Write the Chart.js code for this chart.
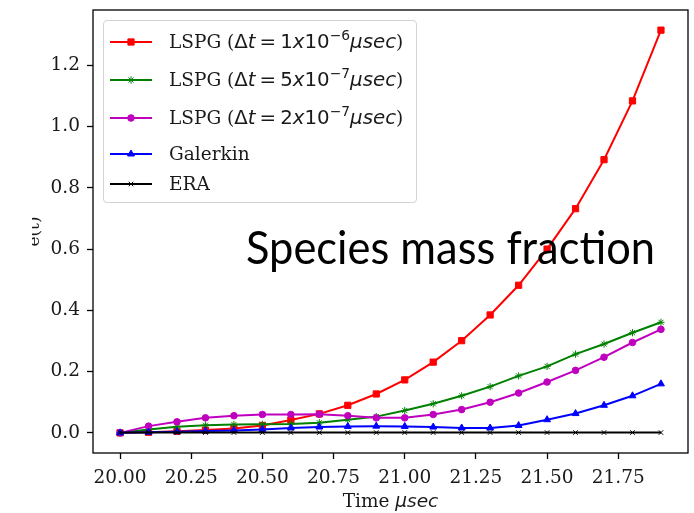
<!DOCTYPE html>
<html lang="en">
<head>
  <meta charset="UTF-8">
  <title>Species mass fraction error</title>
  <script src="https://cdn.jsdelivr.net/npm/chart.js"></script>
  <style>
    body { margin: 0; background: #fff; }
    #wrap { position: relative; width: 694px; height: 513px; overflow: hidden; }
    #chart { position: absolute; left: 0; top: 0; }
    #legend {
      position: absolute; left: 103px; top: 20px; width: 306px;
      padding: 2px 0 5px 6px;
      border: 1px solid #d3d3d3; border-radius: 4px;
      background: rgba(255,255,255,0.8);
      font: 18.5px "DejaVu Serif"; color: #1a1a1a;
    }
    .row { display: flex; align-items: center; height: 38px; line-height: 20px; white-space: nowrap; }
    .row:nth-child(4) { height: 33px; }
    .row:nth-child(5) { height: 27px; }
    .row canvas { margin-right: 15px; flex: none; }
    .m { font-family: "DejaVu Sans"; font-size: 1.07em; }
    .m i { font-style: oblique; }
    .m sup { font-size: 0.7em; line-height: 0; vertical-align: 0.55em; }
    .eq { margin: 0 4px; }
    #xTitle {
      position: absolute; left: 93px; width: 595px; top: 492px;
      text-align: center; font: 18.5px/18px "DejaVu Serif"; color: #1a1a1a;
    }
    #xTitle i { font-family: "DejaVu Sans"; font-style: oblique; }
    #caption {
      position: absolute; left: 246px; top: 223px;
      font: 400 47px/47px Lato; color: #000; white-space: nowrap;
      transform-origin: left center;
    }
  </style>
</head>
<body>
<div id="wrap">
  <canvas id="chart" width="694" height="513"></canvas>
  <div id="legend"></div>
  <div id="xTitle">Time <i>μsec</i></div>
  <div id="caption">Species mass fraction</div>
</div>

<script>
  // time samples (μsec)
  const times = [20.0, 20.1, 20.2, 20.3, 20.4, 20.5, 20.6, 20.7, 20.8, 20.9,
                 21.0, 21.1, 21.2, 21.3, 21.4, 21.5, 21.6, 21.7, 21.8, 21.9];

  // error e(t) per method
  const lspgDt1e6 = [0, 0.002, 0.005, 0.009, 0.014, 0.024, 0.042, 0.062, 0.090, 0.127,
                     0.173, 0.231, 0.301, 0.385, 0.482, 0.600, 0.732, 0.892, 1.084, 1.315];
  const lspgDt5e7 = [0, 0.011, 0.020, 0.025, 0.027, 0.028, 0.029, 0.033, 0.043, 0.053,
                     0.073, 0.095, 0.121, 0.151, 0.186, 0.217, 0.257, 0.290, 0.327, 0.361];
  const lspgDt2e7 = [0, 0.022, 0.036, 0.049, 0.056, 0.060, 0.060, 0.061, 0.056, 0.049,
                     0.049, 0.060, 0.076, 0.100, 0.130, 0.166, 0.204, 0.247, 0.295, 0.338];
  const galerkin  = [0, 0.002, 0.004, 0.006, 0.008, 0.011, 0.016, 0.019, 0.021, 0.022,
                     0.021, 0.019, 0.016, 0.016, 0.024, 0.043, 0.063, 0.090, 0.121, 0.160];
  const era       = [0.001, 0.001, 0.001, 0.001, 0.001, 0.001, 0.001, 0.001, 0.001, 0.001,
                     0.001, 0.001, 0.001, 0.001, 0.001, 0.001, 0.001, 0.001, 0.001, 0.001];

  const xTicks = [20.00, 20.25, 20.50, 20.75, 21.00, 21.25, 21.50, 21.75];
  const yTicks = [0.0, 0.2, 0.4, 0.6, 0.8, 1.0, 1.2];

  const lspgLabel = (m, e) =>
    `LSPG (<span class="m">Δ<i>t</i><span class="eq">=</span>${m}<i>x</i>10<sup>−${e}</sup><i>μsec</i></span>)`;

  const series = [
    { label: lspgLabel(1, 6), data: lspgDt1e6, color: '#ff0000', style: 'rect',     r: 4.4 },
    { label: lspgLabel(5, 7), data: lspgDt5e7, color: '#008000', style: 'star',     r: 3.6 },
    { label: lspgLabel(2, 7), data: lspgDt2e7, color: '#bf00bf', style: 'circle',   r: 3.3 },
    { label: 'Galerkin',      data: galerkin,  color: '#0000ff', style: 'triangle', r: 4 },
    { label: 'ERA',           data: era,       color: '#000000', style: 'crossRot', r: 3.2 }
  ];

  // axes limits with 5% margins around the data, like matplotlib
  const xMin = times[0] - 0.05 * (times[times.length - 1] - times[0]);
  const xMax = times[times.length - 1] + 0.05 * (times[times.length - 1] - times[0]);
  const yTop = Math.max(...lspgDt1e6);
  const yMin = -0.05 * yTop, yMax = yTop * 1.05;

  const tickFont = { family: 'DejaVu Serif', size: 18.5 };

  // full frame around the plot area
  const frame = {
    id: 'frame',
    afterDraw(chart) {
      const { ctx, chartArea: a } = chart;
      ctx.save();
      ctx.strokeStyle = '#000';
      ctx.lineWidth = 1.3;
      ctx.strokeRect(a.left, a.top, a.right - a.left, a.bottom - a.top);
      ctx.restore();
    }
  };

  // y label, cut at the left edge
  const yTitle = {
    id: 'yTitle',
    afterDraw(chart) {
      const { ctx, chartArea: a } = chart;
      ctx.save();
      ctx.beginPath();
      ctx.rect(32, 0, 60, chart.height);
      ctx.clip();
      ctx.translate(39, (a.top + a.bottom) / 2);
      ctx.rotate(-Math.PI / 2);
      ctx.font = '17px "DejaVu Serif"';
      ctx.fillStyle = '#1a1a1a';
      ctx.textAlign = 'center';
      ctx.fillText('e(t)', 0, 0);
      ctx.restore();
    }
  };

  // legend built from the datasets
  const htmlLegend = {
    id: 'htmlLegend',
    afterUpdate(chart) {
      const box = document.getElementById('legend');
      box.innerHTML = '';
      chart.data.datasets.forEach((ds, i) => {
        const row = document.createElement('div');
        row.className = 'row';
        const c = document.createElement('canvas');
        c.width = 44; c.height = 20;
        const g = c.getContext('2d');
        g.strokeStyle = ds.borderColor;
        g.fillStyle = ds.pointBackgroundColor;
        g.lineWidth = ds.borderWidth;
        g.beginPath(); g.moveTo(0, 10); g.lineTo(42, 10); g.stroke();
        g.lineWidth = ds.pointBorderWidth;
        Chart.helpers.drawPoint(g, { pointStyle: ds.pointStyle, radius: ds.pointRadius, borderWidth: ds.pointBorderWidth, rotation: 0 }, 21, 10);
        const t = document.createElement('span');
        t.innerHTML = series[i].label;
        row.appendChild(c);
        row.appendChild(t);
        box.appendChild(row);
      });
    }
  };

  const chart = new Chart(document.getElementById('chart'), {
    type: 'line',
    data: {
      datasets: series.map((s, i) => ({
        label: s.label,
        data: times.map((t, k) => ({ x: t, y: s.data[k] })),
        borderColor: s.color,
        backgroundColor: s.color,
        pointBackgroundColor: s.color,
        pointBorderColor: s.color,
        pointStyle: s.style,
        pointRadius: s.r,
        pointBorderWidth: 1,
        borderWidth: 2,
        tension: 0,
        fill: false,
        order: series.length - i
      }))
    },
    options: {
      responsive: false,
      animation: false,
      devicePixelRatio: 1,
      layout: { padding: { top: 10, right: 6, left: 0, bottom: 0 } },
      plugins: { legend: { display: false }, tooltip: { enabled: false } },
      scales: {
        x: {
          type: 'linear',
          min: xMin, max: xMax,
          afterBuildTicks: s => { s.ticks = xTicks.map(v => ({ value: v })); },
          afterFit: s => { s.height = 60; s.paddingLeft = 0; s.paddingRight = 0; },
          grid: { display: true, drawOnChartArea: false, tickLength: 6, tickColor: '#000', tickWidth: 1.3 },
          border: { display: false },
          ticks: {
            font: tickFont, color: '#1a1a1a', padding: 8,
            maxRotation: 0, autoSkip: false,
            callback: v => v.toFixed(2)
          }
        },
        y: {
          type: 'linear',
          min: yMin, max: yMax,
          afterBuildTicks: s => { s.ticks = yTicks.map(v => ({ value: v })); },
          afterFit: s => { s.width = 93; s.paddingTop = 0; s.paddingBottom = 0; },
          grid: { display: true, drawOnChartArea: false, tickLength: 6, tickColor: '#000', tickWidth: 1.3 },
          border: { display: false },
          ticks: {
            font: tickFont, color: '#1a1a1a', padding: 7,
            callback: v => v.toFixed(1)
          }
        }
      }
    },
    plugins: [frame, yTitle, htmlLegend]
  });

  // squeeze the overlay caption to its width
  const cap = document.getElementById('caption');
  cap.style.transform = `scaleX(${409 / cap.getBoundingClientRect().width})`;
</script>
</body>
</html>
